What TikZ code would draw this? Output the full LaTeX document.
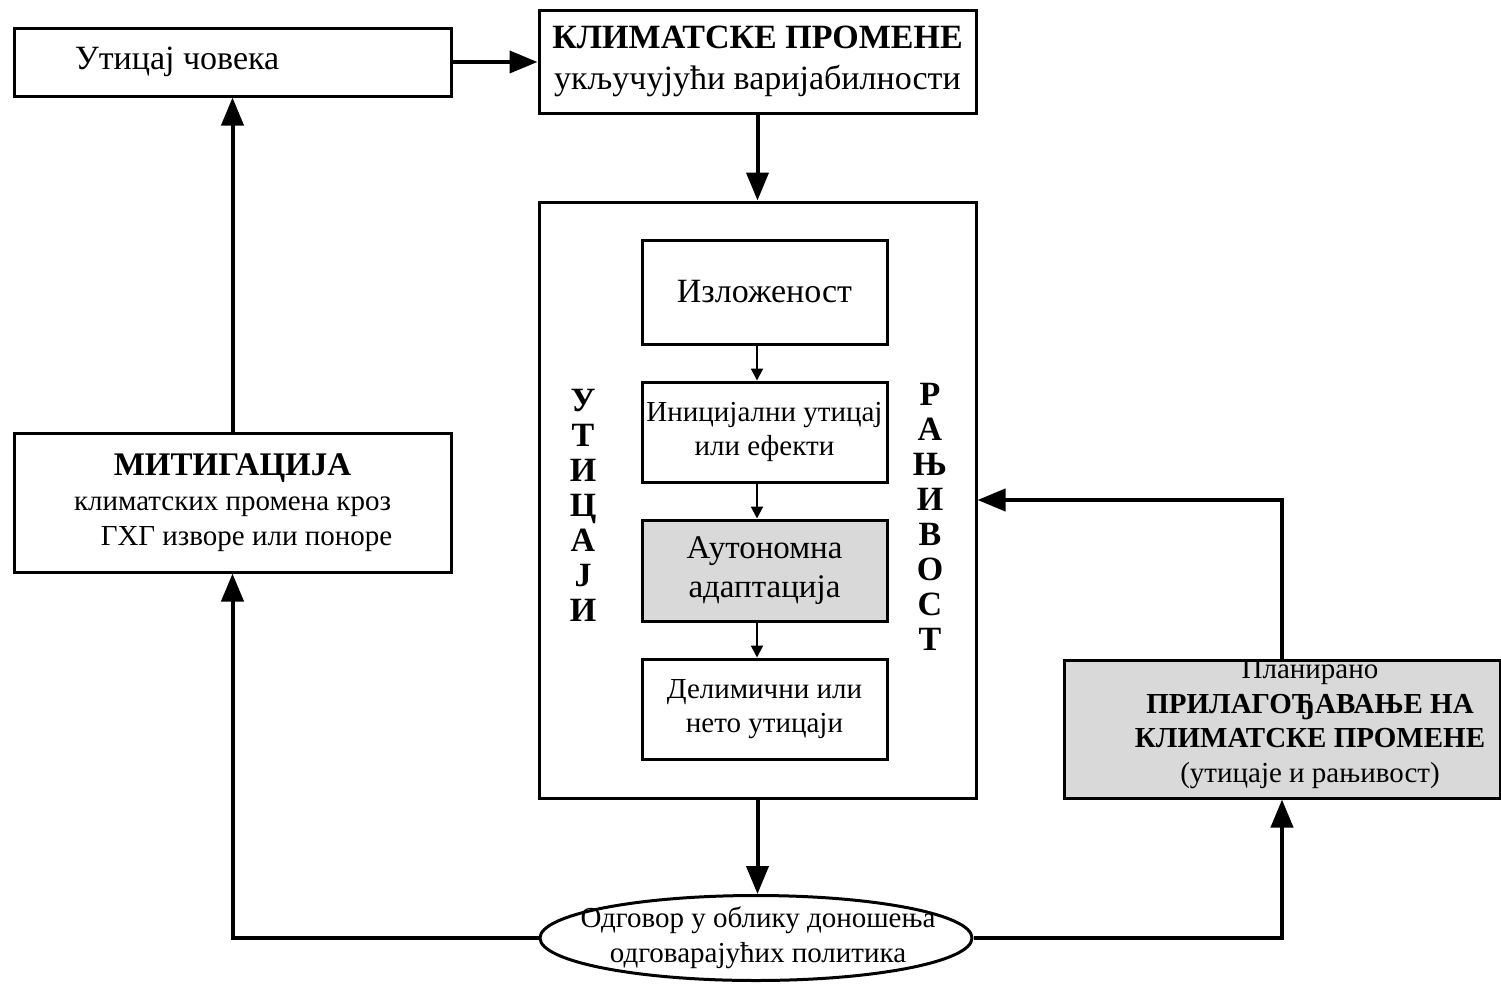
\documentclass[tikz,border=0pt]{standalone}
\usepackage{fontspec}
\setmainfont{Liberation Serif}
\usetikzlibrary{arrows.meta,shapes.geometric}
\begin{document}
\begin{tikzpicture}[x=0.5pt,y=-0.5pt,
 box/.style={draw,line width=1.5pt,rectangle,inner sep=0pt,align=center},
 gbox/.style={box,fill=black!15},
 big/.style={line width=2pt,-{Triangle[length=14pt,width=11pt]}},
 small/.style={line width=1pt,-{Triangle[length=6pt,width=6pt]}},
 fA/.style={font=\fontsize{17}{20.5}\selectfont},
 fB/.style={font=\fontsize{14.5}{17}\selectfont},
 vert/.style={align=center,inner sep=0pt,font=\fontsize{17}{17.5}\selectfont\bfseries}]
\useasboundingbox (0,0) rectangle (1501,986);
% top row
\node[box,minimum width=218.5pt,minimum height=34pt] (hum) at (232.5,62) {};
\node[fA,inner sep=0pt] (humt) at (177,62) {Утицај човека};
\node[box,fA,minimum width=218.5pt,minimum height=51.5pt] (cc) at (757.5,61.5)
  {\textbf{КЛИМАТСКЕ ПРОМЕНЕ}\\укључујући варијабилности};
% big box
\node[box,minimum width=218.5pt,minimum height=298pt] (imp) at (757.5,500) {};
\node[box,fA,minimum width=122.5pt,minimum height=52pt] (izl) at (764.5,292) {Изложеност};
\node[box,fB,minimum width=122.5pt,minimum height=50pt] (ini) at (764.5,432) {Иницијални утицај\\или ефекти};
\node[gbox,font=\fontsize{16.5}{19.5}\selectfont,minimum width=122.5pt,minimum height=50.5pt] (aut) at (764.5,570.5) {Аутономна\\адаптација};
\node[box,fB,minimum width=122.5pt,minimum height=50pt] (del) at (764.5,709) {Делимични или\\нето утицаји};
\coordinate (ax) at (757,0);
\node[vert] (vl) at (583,505) {У\\Т\\И\\Ц\\А\\Ј\\И};
\node[vert] (vr) at (930,517) {Р\\А\\Њ\\И\\В\\О\\С\\Т};
% left / right boxes
\node[box,minimum width=218.5pt,minimum height=69.5pt,font=\fontsize{14.5}{17.5}\selectfont] (mit) at (232.5,502.5)
  {{\fontsize{16.5}{17.5}\selectfont\textbf{МИТИГАЦИЈА}}\\климатских промена кроз\\\hspace*{14pt}ГХГ изворе или поноре};
\node[gbox,minimum width=218pt,minimum height=69pt] (pl) at (1282,729) {};
\node[align=center,inner sep=0pt,font=\fontsize{14.5}{17.3}\selectfont] (plt) at (1310,724)
  {Планирано\\\textbf{ПРИЛАГОЂАВАЊЕ НА}\\\textbf{КЛИМАТСКЕ ПРОМЕНЕ}\\(утицаје и рањивост)};
% ellipse
\node[draw,ellipse,line width=1.5pt,inner sep=0pt,minimum width=216pt,minimum height=42.5pt] (resp) at (756,938) {};
\node[align=center,inner sep=0pt,font=\fontsize{14.5}{17.5}\selectfont] (respt) at (758,937.5)
  {Одговор у облику доношења\\одговарајућих политика};
% connectors
\draw[big] (hum.east) -- (hum.east -| cc.west);
\draw[big] (cc.south) -- (imp.north);
\draw[small] (izl.south -| ax) -- (ini.north -| ax);
\draw[small] (ini.south -| ax) -- (aut.north -| ax);
\draw[small] (aut.south -| ax) -- (del.north -| ax);
\draw[big] (imp.south) -- (imp.south |- resp.north);
\draw[big] (resp.west) -| (mit.south);
\draw[big] (resp.east) -| (pl.south);
\draw[big] (pl.north) |- (imp.east);
\draw[big] (mit.north) -- (hum.south);
\end{tikzpicture}
\end{document}
